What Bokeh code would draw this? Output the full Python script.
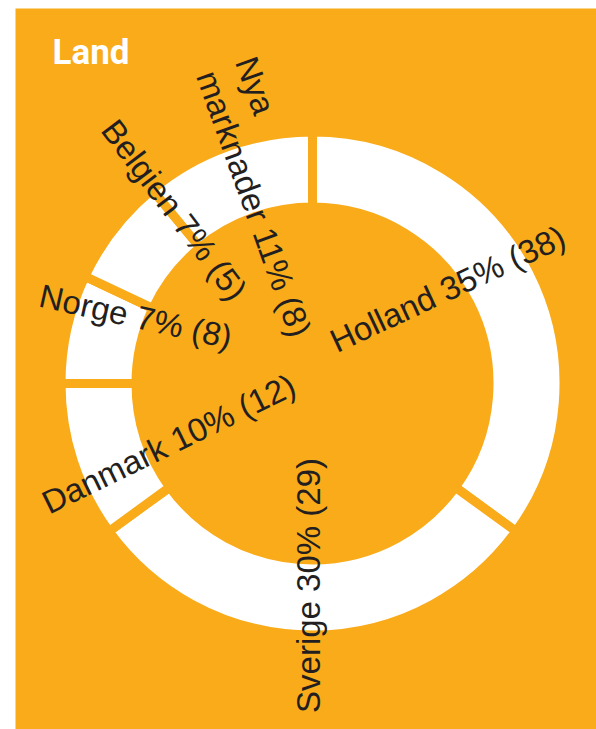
import numpy as np
from bokeh.plotting import figure
from bokeh.models import Range1d, Label, ColumnDataSource
from bokeh.embed import file_html
from bokeh.resources import INLINE
from bokeh.core.properties import value

# ---- data -------------------------------------------------------------
countries = ["Holland", "Sverige", "Danmark", "Norge", "Belgien", "Nya\nmarknader"]
shares = [35, 30, 10, 7, 7, 11]          # percent
counts = [38, 29, 12, 8, 5, 8]           # number in parentheses

# ---- label layout tweaks (relative to each slice's mid-angle) ----------
lab_dphi = [8, -1, 4.7, -8.2, -13.7, -4.6]   # deg, shift of label anchor
lab_r = [165, 202, 156, 189, 222, 330]       # px, anchor distance from centre
lab_drot = [-2, 0, 8, 0, -15, 0]             # deg, extra rotation
lab_left = [False, False, False, False, False, True]

ORANGE = "#F9AB1A"
TEXT = "#231F20"

R_OUT, R_IN, GAP = 247, 181, 9

# ---- geometry from data ------------------------------------------------
sh = np.array(shares, dtype=float)
cum_end = np.cumsum(sh) / sh.sum()
cum_start = np.concatenate([[0.0], cum_end[:-1]])
start = np.pi / 2 - 2 * np.pi * cum_start
end = np.pi / 2 - 2 * np.pi * cum_end
mid = (start + end) / 2

p = figure(width=596, height=729, output_backend="svg", toolbar_location=None,
           x_range=Range1d(-297, 284), y_range=Range1d(-346, 375),
           min_border_left=15, min_border_right=0, min_border_top=8, min_border_bottom=0,
           border_fill_color="white", background_fill_color=ORANGE,
           outline_line_color=None)
p.axis.visible = False
p.grid.visible = False

wsrc = ColumnDataSource(dict(start=start, end=end, name=countries))
p.annular_wedge(x=0, y=0, inner_radius=R_IN - GAP / 2, outer_radius=R_OUT + GAP / 2,
                start_angle="start", end_angle="end", direction="clock",
                fill_color="white", line_color=ORANGE, line_width=GAP, source=wsrc)

labels = [f"{c} {s}% ({n})" for c, s, n in zip(countries, shares, counts)]
phi = mid + np.radians(lab_dphi)
rot = mid + np.radians(lab_drot)
ang = np.where(np.cos(rot) < 1e-9, rot - np.pi, rot)
lx = np.array(lab_r) * np.cos(phi)
ly = np.array(lab_r) * np.sin(phi)

for left in (False, True):
    idx = [i for i in range(len(labels)) if lab_left[i] == left]
    src = ColumnDataSource(dict(x=lx[idx], y=ly[idx], t=[labels[i] for i in idx], a=ang[idx]))
    p.text(x="x", y="y", text="t", angle="a", source=src,
           text_font=value("Liberation Sans"), text_font_size=value("33px"),
           text_color=TEXT, text_align="left" if left else "center",
           text_baseline="middle", text_line_height=1.12)

p.add_layout(Label(x=-260, y=331, text="Land", text_color="white",
                   text_font="Roboto", text_font_style="bold", text_font_size="35px",
                   text_align="left", text_baseline="alphabetic"))

open("out.html", "w").write(file_html(p, INLINE))
